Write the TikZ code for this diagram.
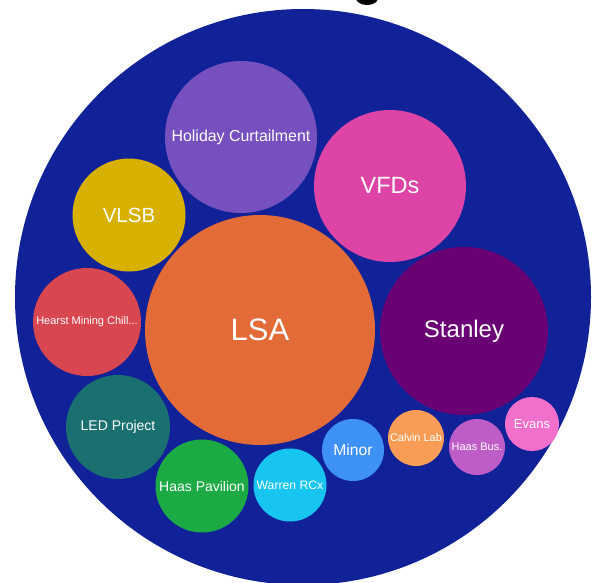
\documentclass[tikz,border=0pt]{standalone}
\usepackage{fontspec}
\setsansfont{Liberation Sans}
\usepackage{tikz}

\definecolor{bgblue}{RGB}{17,34,153}
\definecolor{choliday}{RGB}{119,80,192}
\definecolor{cvfds}{RGB}{221,68,166}
\definecolor{cvlsb}{RGB}{216,176,0}
\definecolor{clsa}{RGB}{227,107,55}
\definecolor{cstanley}{RGB}{105,0,115}
\definecolor{chearst}{RGB}{216,70,80}
\definecolor{cled}{RGB}{26,112,112}
\definecolor{cpavilion}{RGB}{27,170,68}
\definecolor{cwarren}{RGB}{24,197,240}
\definecolor{cminor}{RGB}{63,146,245}
\definecolor{ccalvin}{RGB}{249,156,85}
\definecolor{chaasbus}{RGB}{190,92,200}
\definecolor{cevans}{RGB}{243,111,204}

\newcommand{\fsz}[1]{\fontsize{#1}{#1}\selectfont}

\begin{document}
\begin{tikzpicture}
  [x=1pt,y=-1pt,every node/.style={circle,inner sep=0pt,text=white,font=\sffamily}]
  \useasboundingbox (0,0) rectangle (592,582);
  \fill[black] (367,-2) ellipse [x radius=11pt,y radius=7pt];
  \node[fill=bgblue,minimum size=576pt] (all) at (303,297) {};

  \node[fill=clsa,minimum size=230pt]      (lsa)      at (260,330) {\fsz{31}LSA};
  \node[fill=cstanley,minimum size=168pt]  (stanley)  at (464,331) {\fsz{24}Stanley};
  \node[fill=choliday,minimum size=152pt]  (holiday)  at (241,137) {\fsz{15.9}Holiday Curtailment};
  \node[fill=cvfds,minimum size=152pt]     (vfds)     at (390,186) {\fsz{23.5}VFDs};
  \node[fill=cvlsb,minimum size=113pt]     (vlsb)     at (129,215) {\fsz{20.5}VLSB};
  \node[fill=chearst,minimum size=108pt]   (hearst)   at (87,322)  {\fsz{11}Hearst Mining Chill...};
  \node[fill=cled,minimum size=104pt]      (led)      at (118,427) {\fsz{14}LED Project};
  \node[fill=cpavilion,minimum size=93pt]  (pavilion) at (202,486) {\fsz{14}Haas Pavilion};
  \node[fill=cwarren,minimum size=73pt]    (warren)   at (290,485) {\fsz{12.2}Warren RCx};
  \node[fill=cminor,minimum size=62pt]     (minor)    at (353,450) {\fsz{15.6}Minor};
  \node[fill=ccalvin,minimum size=56pt]    (calvin)   at (416,438) {\fsz{11}Calvin Lab};
  \node[fill=chaasbus,minimum size=56pt]   (haasbus)  at (477,447) {\fsz{11}Haas Bus.};
  \node[fill=cevans,minimum size=54pt]     (evans)    at (532,424) {\fsz{13}Evans};

\end{tikzpicture}
\end{document}
